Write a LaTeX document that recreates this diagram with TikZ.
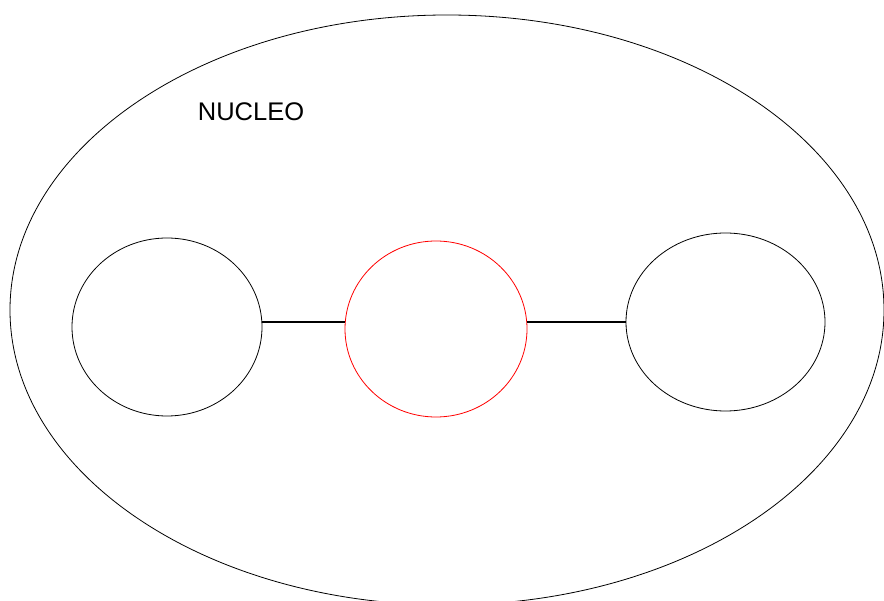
\documentclass[tikz,border=0pt]{standalone}
\usepackage{fontspec}
\setmainfont{Liberation Sans}
\usetikzlibrary{shapes.geometric}
\begin{document}
\begin{tikzpicture}[x=1pt,y=-1pt,
  blob/.style={draw=black,ellipse,inner sep=0pt,line width=0.8pt},
  redblob/.style={blob,draw=red},
  bond/.style={draw=black,line width=2.8pt}]
\useasboundingbox (0,0) rectangle (884,601);
\clip (0,0) rectangle (884,601);
\node[blob,minimum width=874pt,minimum height=590pt] (nucleus) at (447,310) {};
\node[font=\fontsize{25.5pt}{30pt}\selectfont] (label) at (251,112) {NUCLEO};
\node[blob,minimum width=190pt,minimum height=178pt] (left) at (167,327) {};
\node[redblob,minimum width=182pt,minimum height=176pt] (mid) at (436,329) {};
\node[blob,minimum width=199pt,minimum height=178pt] (right) at (725.5,322) {};
\coordinate (lvl) at (0,322);
\draw[bond] (left.east |- lvl) -- (mid.west |- lvl);
\draw[bond] (mid.east |- lvl) -- (right.west |- lvl);
\end{tikzpicture}
\end{document}
